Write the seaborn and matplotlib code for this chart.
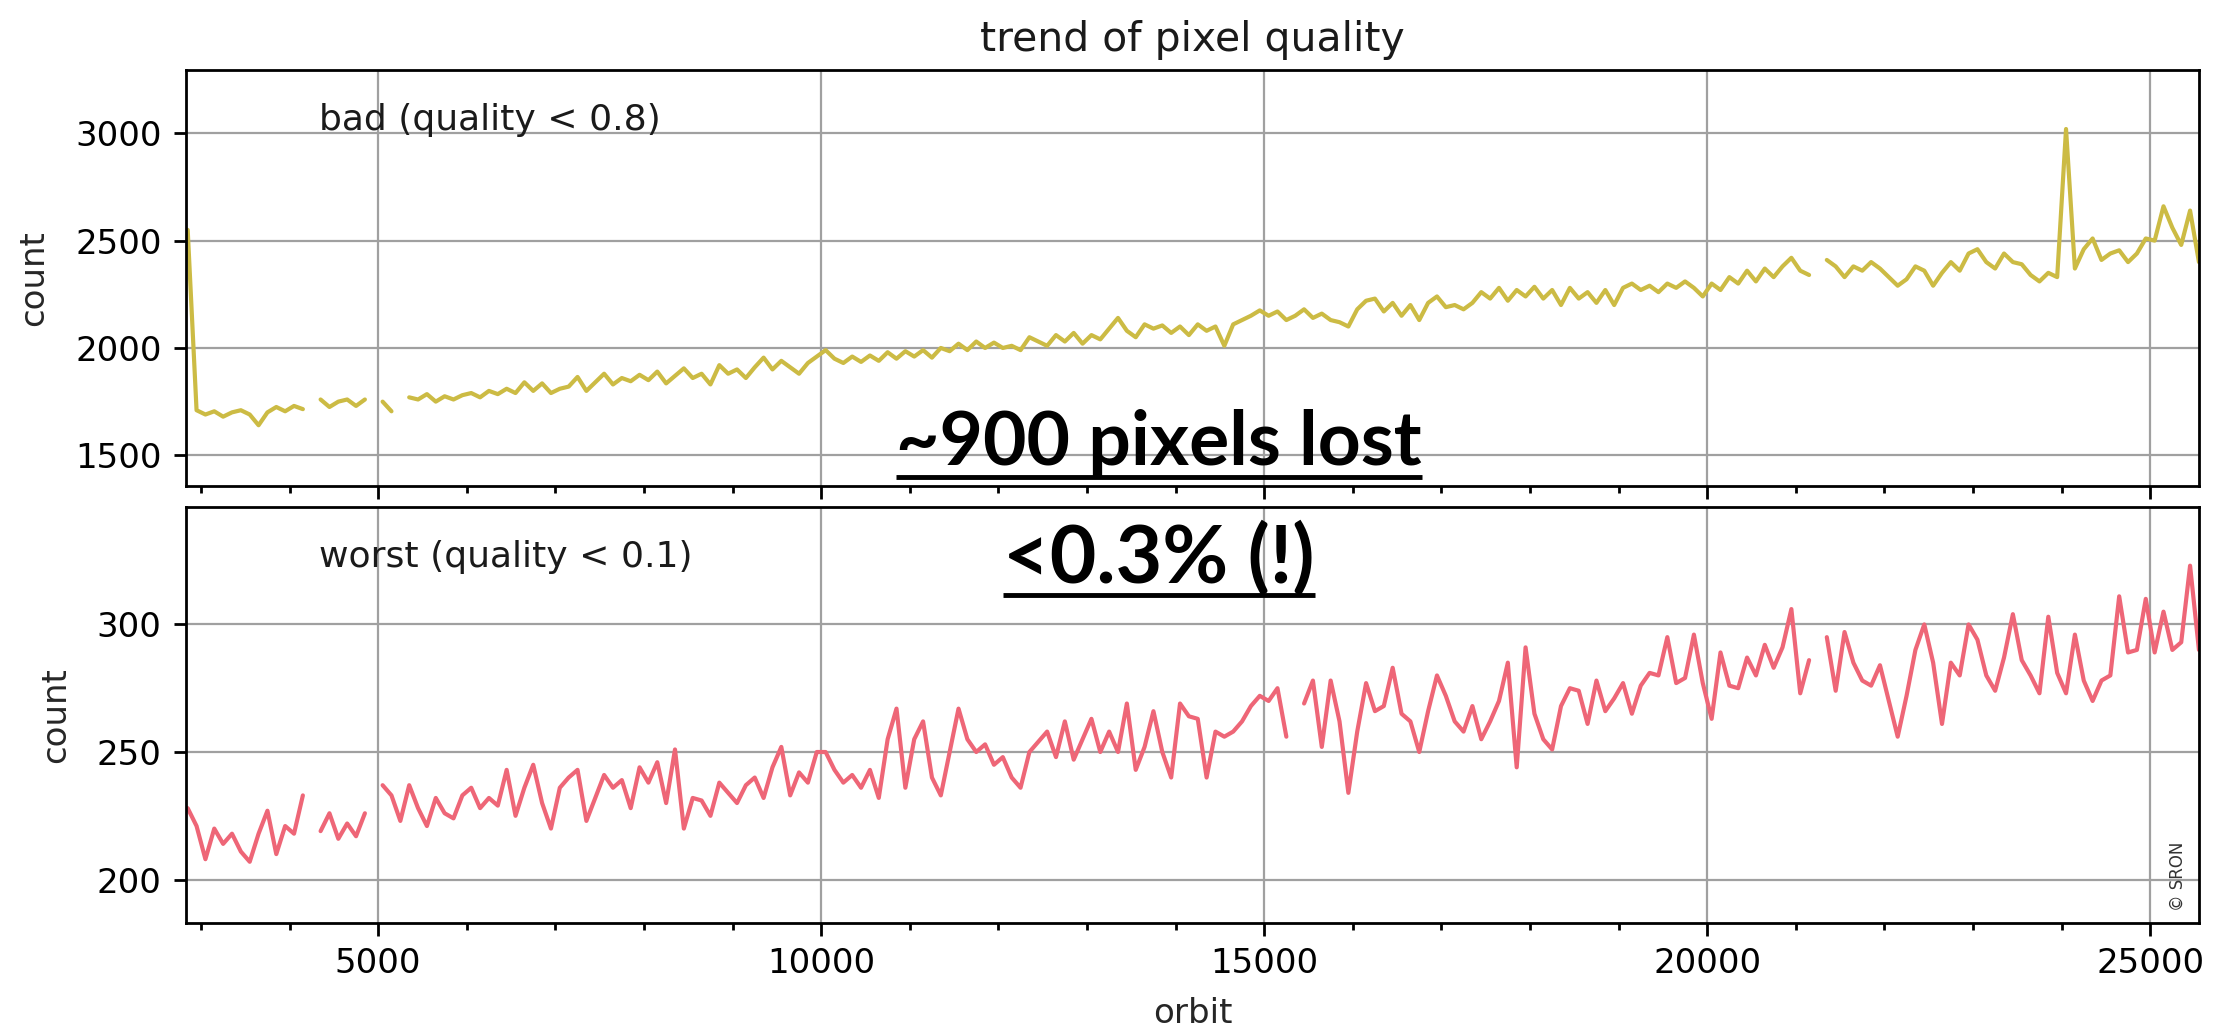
import numpy as np
import pandas as pd
import matplotlib
matplotlib.use("Agg")
import matplotlib.pyplot as plt
import seaborn as sns
from matplotlib.lines import Line2D
from matplotlib.ticker import MultipleLocator

nan = np.nan

# orbit sampling of both series (one value every 100 orbits, nan = no data)
first_orbit = 2850
orbit_step = 100

bad_count = [
    2550, 1710, 1690, 1705, 1680, 1700, 1710, 1690, 1640, 1700,
    1725, 1705, 1730, 1715, nan, 1760, 1725, 1750, 1760, 1730,
    1760, nan, 1750, 1705, nan, 1770, 1760, 1785, 1750, 1775,
    1760, 1780, 1790, 1770, 1800, 1785, 1810, 1790, 1840, 1800,
    1835, 1790, 1810, 1820, 1865, 1800, 1840, 1880, 1830, 1860,
    1845, 1875, 1850, 1890, 1835, 1870, 1905, 1860, 1880, 1830,
    1920, 1880, 1900, 1860, 1910, 1955, 1900, 1940, 1910, 1880,
    1930, 1960, 1990, 1950, 1930, 1960, 1935, 1965, 1940, 1980,
    1950, 1985, 1960, 1990, 1955, 2000, 1985, 2020, 1990, 2030,
    2000, 2025, 2000, 2010, 1990, 2050, 2030, 2010, 2060, 2030,
    2070, 2020, 2060, 2040, 2090, 2140, 2080, 2050, 2110, 2090,
    2105, 2070, 2100, 2060, 2110, 2080, 2100, 2010, 2110, 2130,
    2150, 2175, 2150, 2170, 2130, 2150, 2180, 2140, 2160, 2130,
    2120, 2100, 2180, 2220, 2230, 2170, 2210, 2150, 2200, 2130,
    2210, 2240, 2190, 2200, 2180, 2210, 2260, 2230, 2280, 2220,
    2270, 2240, 2285, 2230, 2270, 2200, 2280, 2230, 2260, 2210,
    2270, 2200, 2280, 2300, 2270, 2290, 2260, 2300, 2280, 2310,
    2280, 2240, 2300, 2270, 2330, 2300, 2360, 2310, 2370, 2330,
    2380, 2420, 2360, 2340, nan, 2410, 2380, 2330, 2380, 2360,
    2400, 2370, 2330, 2290, 2320, 2380, 2360, 2290, 2350, 2400,
    2360, 2440, 2460, 2400, 2370, 2440, 2400, 2390, 2340, 2310,
    2350, 2330, 3020, 2370, 2460, 2510, 2410, 2440, 2455, 2400,
    2440, 2510, 2500, 2660, 2560, 2480, 2640, 2400,
]

worst_count = [
    228, 221, 208, 220, 214, 218, 211, 207, 218, 227,
    210, 221, 218, 233, nan, 219, 226, 216, 222, 217,
    226, nan, 237, 233, 223, 237, 228, 221, 232, 226,
    224, 233, 236, 228, 232, 229, 243, 225, 236, 245,
    230, 220, 236, 240, 243, 223, 232, 241, 236, 239,
    228, 244, 238, 246, 230, 251, 220, 232, 231, 225,
    238, 234, 230, 237, 240, 232, 244, 252, 233, 242,
    238, 250, 250, 243, 238, 241, 236, 243, 232, 255,
    267, 236, 255, 262, 240, 233, 250, 267, 255, 250,
    253, 245, 248, 240, 236, 250, 254, 258, 248, 262,
    247, 255, 263, 250, 258, 250, 269, 243, 252, 266,
    250, 240, 269, 264, 263, 240, 258, 256, 258, 262,
    268, 272, 270, 275, 256, nan, 269, 278, 252, 278,
    262, 234, 258, 277, 266, 268, 283, 265, 262, 250,
    266, 280, 272, 262, 258, 268, 255, 262, 270, 285,
    244, 291, 265, 255, 251, 268, 275, 274, 261, 278,
    266, 271, 277, 265, 276, 281, 280, 295, 277, 279,
    296, 277, 263, 289, 276, 275, 287, 280, 292, 283,
    291, 306, 273, 286, nan, 295, 274, 297, 285, 278,
    276, 284, 270, 256, 272, 290, 300, 285, 261, 285,
    280, 300, 294, 280, 274, 287, 304, 286, 280, 273,
    303, 281, 273, 296, 278, 270, 278, 280, 311, 289,
    290, 310, 289, 305, 290, 293, 323, 290,
]

bad_yticks = [1500, 2000, 2500, 3000]
worst_yticks = [200, 250, 300]


def to_frame(values):
    # split the series at the missing orbits so the line shows gaps
    vals = np.array(values, dtype=float)
    orbit = first_orbit + orbit_step * np.arange(len(vals))
    seg = np.cumsum(np.isnan(vals))
    df = pd.DataFrame({"orbit": orbit, "count": vals, "seg": seg})
    return df.dropna()


sns.set_style("ticks")
plt.rcParams.update({
    "font.family": ["DejaVu Sans"],
    "font.size": 24.5,
    "axes.linewidth": 2.0,
    "xtick.major.size": 9, "ytick.major.size": 9,
    "xtick.minor.size": 5,
    "xtick.major.width": 2.0, "ytick.major.width": 2.0,
    "xtick.minor.width": 2.0,
    "xtick.major.pad": 8.5, "ytick.major.pad": 8.5,
    "axes.edgecolor": "black",
    "xtick.color": "black", "ytick.color": "black",
    "text.color": "#1a1a1a",
})

fig = plt.figure(figsize=(22.16, 10.29), dpi=100)
ax_top = fig.add_axes([0.0839, 0.5277, 0.9084, 0.4043])
ax_bot = fig.add_axes([0.0839, 0.1030, 0.9084, 0.4043], sharex=ax_top)

bad_df = to_frame(bad_count)
worst_df = to_frame(worst_count)

sns.lineplot(data=bad_df, x="orbit", y="count", units="seg", estimator=None,
             color="#CCBB44", lw=3.0, ax=ax_top, legend=False)
sns.lineplot(data=worst_df, x="orbit", y="count", units="seg", estimator=None,
             color="#EE6677", lw=3.0, ax=ax_bot, legend=False)

for ax in (ax_top, ax_bot):
    ax.set_xlim(2830, 25550)
    ax.xaxis.set_major_locator(MultipleLocator(5000))
    ax.xaxis.set_minor_locator(MultipleLocator(1000))
    ax.grid(True, which="major", color="#a0a0a0", lw=1.6)
    ax.set_ylabel("count", fontsize=24.5, labelpad=18)
    ax.tick_params(labelsize=24.5)

ax_top.set_ylim(1357, 3295)
ax_top.set_yticks(bad_yticks)
ax_top.tick_params(labelbottom=False)
ax_top.set_xlabel("")
ax_top.set_title("trend of pixel quality", fontsize=29.4, pad=14)

ax_bot.set_ylim(183, 346)
ax_bot.set_yticks(worst_yticks)
ax_bot.set_xlabel("orbit", fontsize=24.5, labelpad=12)

ax_top.text(0.066, 0.88, "bad (quality < 0.8)", transform=ax_top.transAxes,
            va="center", ha="left", fontsize=26)
ax_bot.text(0.066, 0.88, "worst (quality < 0.1)", transform=ax_bot.transAxes,
            va="center", ha="left", fontsize=26)
ax_bot.text(0.994, 0.03, "\u00a9 SRON", transform=ax_bot.transAxes,
            rotation=90, ha="right", va="bottom", fontsize=12, color="#333333")

# big underlined remarks
notes = [("~900 pixels lost", 0.548, 54), ("<0.3% (!)", 0.433, 58)]
note_texts = []
for label, y, size in notes:
    t = fig.text(0.523, y, label, ha="center", va="baseline", fontsize=size,
                 fontweight="bold", family=["Lato", "DejaVu Sans"], color="black")
    note_texts.append((t, y))

fig.canvas.draw()
renderer = fig.canvas.get_renderer()
W, H = fig.bbox.width, fig.bbox.height
for t, y in note_texts:
    bb = t.get_window_extent(renderer)
    uy = y - 12.0 / H
    fig.add_artist(Line2D([bb.x0 / W, bb.x1 / W], [uy, uy], transform=fig.transFigure,
                          color="black", lw=3.5, solid_capstyle="butt"))

fig.savefig("out.png", dpi=100)
